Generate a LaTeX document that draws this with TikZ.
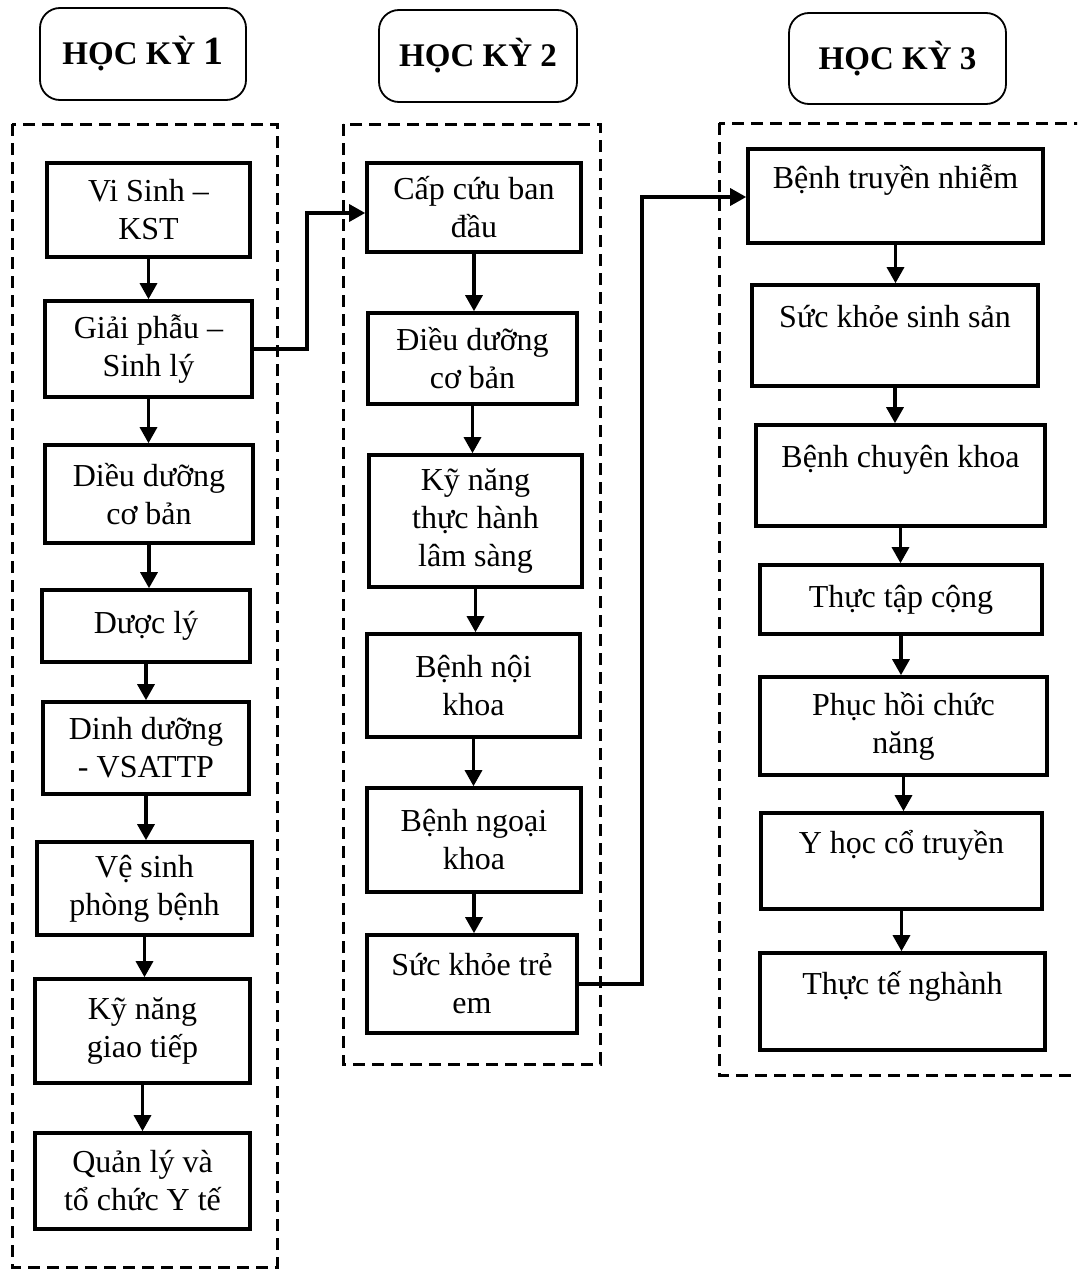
\documentclass[tikz,border=0pt]{standalone}
\usepackage{fontspec}
\setmainfont{Liberation Serif}
\usetikzlibrary{arrows.meta}
\tikzset{
  every picture/.style={
    line width=1.6pt,
    >={Triangle[width=8.5pt, length=8pt]}
  },
  course/.style={
    draw, line width=1.8pt, align=center, inner sep=2pt,
    font=\fontsize{16}{19}\selectfont
  },
  term/.style={
    draw, rounded corners=10pt, line width=0.9pt,
    font=\bfseries\fontsize{16.5}{19}\selectfont
  },
  group/.style={
    dash pattern=on 6pt off 3.5pt, line width=1.5pt
  }
}

\begin{document}
\begin{tikzpicture}[x=0.5pt, y=-0.5pt]
  \clip (0,0) rectangle (1077,1269);

  \node [term, minimum width=103pt, minimum height=46pt] (t1) at (143,54)
    {HỌC KỲ {\fontsize{20}{20}\selectfont 1}};
  \node [term, minimum width=99pt, minimum height=46pt] (t2) at (478,56) {HỌC KỲ 2};
  \node [term, minimum width=108.5pt, minimum height=45.5pt] (t3) at (897.5,58.5) {HỌC KỲ 3};

  \draw [group] (12,124) rectangle (277,1267);
  \draw [group] (343,124) rectangle (600,1064);
  \draw [group] (719,123) rectangle (1100,1075);

  \node [course, minimum width=101.5pt, minimum height=47pt] (v1) at (148.5,210) {Vi Sinh –\\KST};
  \node [course, minimum width=103.5pt, minimum height=48pt] (v2) at (148.5,349) {Giải phẫu –\\Sinh lý};
  \node [course, minimum width=104pt, minimum height=49pt] (v3) at (149,494) {Diều dưỡng\\cơ bản};
  \node [course, minimum width=104pt, minimum height=36pt] (v4) at (146,626) {Dược lý};
  \node [course, minimum width=103pt, minimum height=46pt] (v5) at (146,748) {Dinh dưỡng\\- VSATTP};
  \node [course, minimum width=107.5pt, minimum height=46.5pt] (v6) at (144.5,888.5) {Vệ sinh\\phòng bệnh};
  \node [course, minimum width=107.5pt, minimum height=52pt] (v7) at (142.5,1031) {Kỹ năng\\giao tiếp};
  \node [course, minimum width=107.5pt, minimum height=48pt] (v8) at (142.5,1181) {Quản lý và\\tổ chức Y tế};

  \node [course, minimum width=107pt, minimum height=44.5pt] (c1) at (474,207.5) {Cấp cứu ban\\đầu};
  \node [course, minimum width=104.5pt, minimum height=45.5pt] (c2) at (472.5,358.5) {Điều dưỡng\\cơ bản};
  \node [course, minimum width=106.5pt, minimum height=66pt] (c3) at (475.5,521) {Kỹ năng\\thực hành\\lâm sàng};
  \node [course, minimum width=106.5pt, minimum height=51.5pt] (c4) at (473.5,685.5) {Bệnh nội\\khoa};
  \node [course, minimum width=107pt, minimum height=52pt] (c5) at (474,840) {Bệnh ngoại\\khoa};
  \node [course, minimum width=105pt, minimum height=49pt] (c6) at (472,984) {Sức khỏe trẻ\\em};

  \node [course, minimum width=147.5pt, minimum height=47pt] (s1) at (895.5,196) {Bệnh truyền nhiễm\\\mbox{}};
  \node [course, minimum width=143pt, minimum height=50.5pt] (s2) at (895,335.5) {Sức khỏe sinh sản\\\mbox{}};
  \node [course, minimum width=144.5pt, minimum height=50.5pt] (s3) at (900.5,475.5) {Bệnh chuyên khoa\\\mbox{}};
  \node [course, minimum width=141pt, minimum height=34.5pt] (s4) at (901,599.5) {Thực tập cộng};
  \node [course, minimum width=143.5pt, minimum height=49pt] (s5) at (903.5,726) {Phục hồi chức\\năng};
  \node [course, minimum width=140.5pt, minimum height=48pt] (s6) at (901.5,861) {Y học cổ truyền\\\mbox{}};
  \node [course, minimum width=142.5pt, minimum height=48.5pt] (s7) at (902.5,1001.5) {Thực tế nghành\\\mbox{}};

  \draw [->] (v1.south) -- (v1.south |- v2.north);
  \draw [->] (v2.south) -- (v2.south |- v3.north);
  \draw [->] (v3.south) -- (v3.south |- v4.north);
  \draw [->] (v4.south) -- (v4.south |- v5.north);
  \draw [->] (v5.south) -- (v5.south |- v6.north);
  \draw [->] (v6.south) -- (v6.south |- v7.north);
  \draw [->] (v7.south) -- (v7.south |- v8.north);

  \draw [->] (c1.south) -- (c1.south |- c2.north);
  \draw [->] (c2.south) -- (c2.south |- c3.north);
  \draw [->] (c3.south) -- (c3.south |- c4.north);
  \draw [->] (c4.south) -- (c4.south |- c5.north);
  \draw [->] (c5.south) -- (c5.south |- c6.north);

  \draw [->] (s1.south) -- (s1.south |- s2.north);
  \draw [->] (s2.south) -- (s2.south |- s3.north);
  \draw [->] (s3.south) -- (s3.south |- s4.north);
  \draw [->] (s4.south) -- (s4.south |- s5.north);
  \draw [->] (s5.south) -- (s5.south |- s6.north);
  \draw [->] (s6.south) -- (s6.south |- s7.north);

  \coordinate (j1) at (307,213);
  \coordinate (j2) at (642,197);
  \draw [->] (v2.east) -| (j1) -- (j1 -| c1.west);
  \draw [->] (c6.east) -| (j2) -- (j2 -| s1.west);
\end{tikzpicture}
\end{document}
